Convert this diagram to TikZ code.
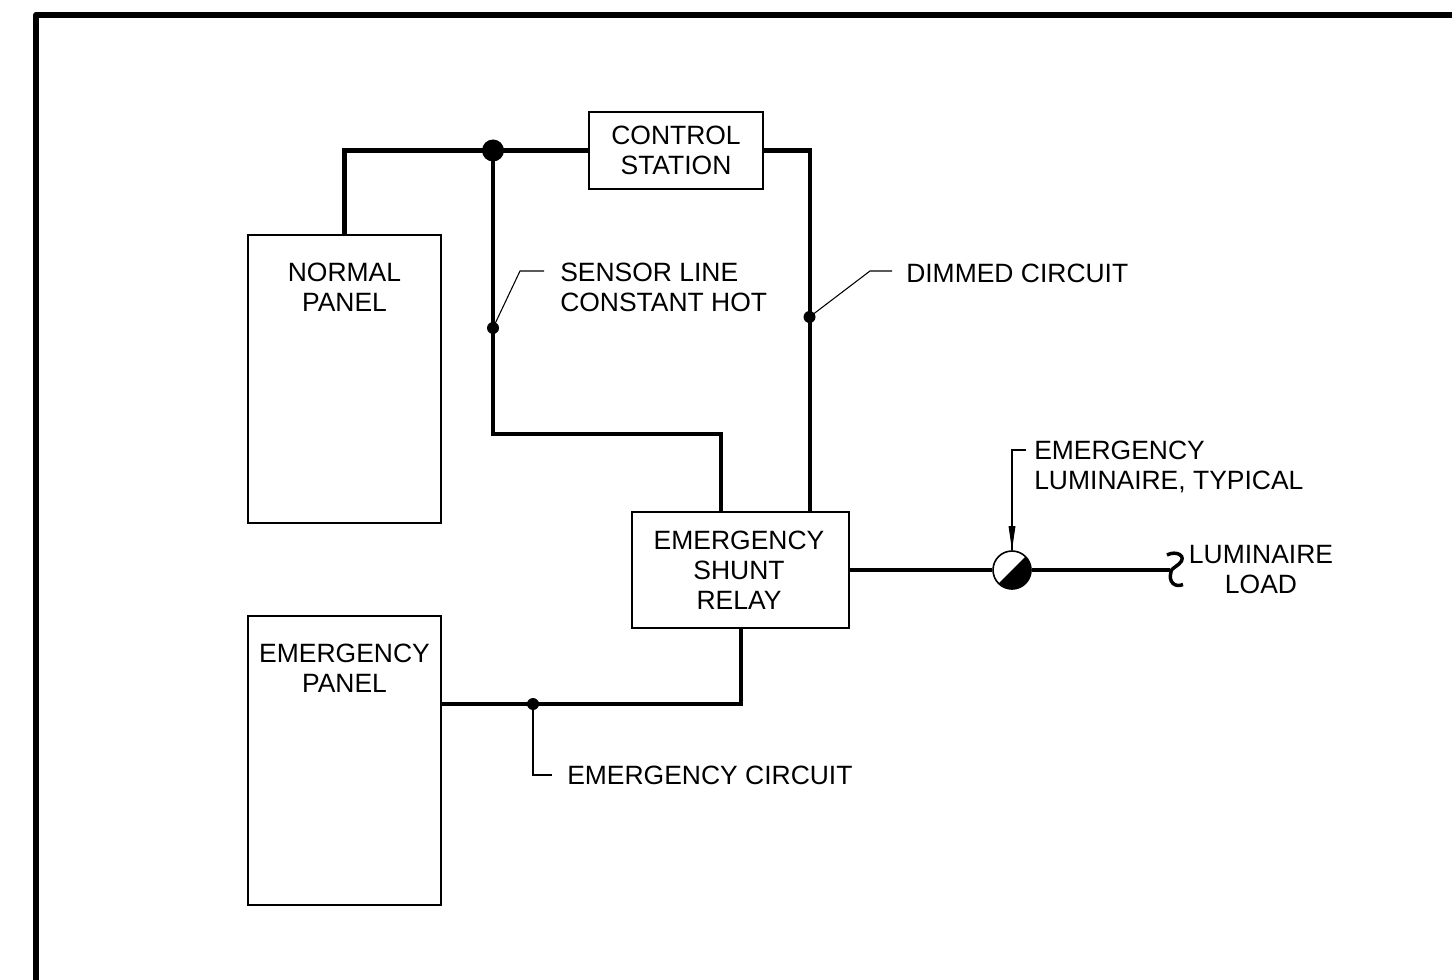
\documentclass[tikz,border=0pt]{standalone}
\usepackage{fontspec}
\setmainfont{Liberation Sans}
\begin{document}
\begin{tikzpicture}[x=0.75pt,y=-0.75pt,
  boxnode/.style={draw,line width=1pt,inner sep=0},
  label/.style={inner sep=0,align=center,font=\fontsize{19.85}{22.5}\selectfont},
  leftlabel/.style={inner sep=0,align=left,font=\fontsize{19.85}{22.5}\selectfont},
  wire/.style={line width=3.4pt,line join=miter},
  leader/.style={line width=0.8pt},
  jdot/.style={circle,fill=black,inner sep=0,minimum size=#1}]
\useasboundingbox (0,0) rectangle (1452,980);
\coordinate (frameR) at (1452,15);
\coordinate (frameC) at (36,15);
\coordinate (frameB) at (36,980);
\draw[line width=4.5pt,line join=round] (frameR) -- (frameC) -- (frameB);
% boxes
\node[boxnode,minimum width=130.5pt,minimum height=57.75pt] (control) at (676,150.5) {};
\node[label] (controlT) at (676,150) {CONTROL\\STATION};
\node[boxnode,minimum width=144.75pt,minimum height=216pt] (normal) at (344.5,379) {};
\node[label] (normalT) at (344.5,287) {NORMAL\\PANEL};
\node[boxnode,minimum width=144.75pt,minimum height=216.75pt] (emerg) at (344.5,760.5) {};
\node[label] (emergT) at (344.5,668) {EMERGENCY\\PANEL};
\node[boxnode,minimum width=162.75pt,minimum height=87pt] (relay) at (740.5,570) {};
\node[label] (relayT) at (739,570) {EMERGENCY\\SHUNT\\RELAY};
% junctions
\node[jdot=16.5pt] (bigj) at (493,150.5) {};
\node[jdot=9pt] (d1) at (493,328) {};
\node[jdot=9pt] (d2) at (809.5,317) {};
\node[jdot=9pt] (d3) at (533,704) {};
% luminaire
\node[circle,draw,line width=1.2pt,fill=white,minimum size=28.5pt,inner sep=0] (lum) at (1012,570) {};
\begin{scope}
  \clip (982,600) -- (1042,540) -- (1042,600) -- cycle;
  \fill (lum.center) circle[radius=19.3];
\end{scope}
% wire points
\coordinate (rA) at (721,512);
\coordinate (rB) at (810,512);
\coordinate (rC) at (741,628);
\coordinate (t1) at (493,434);
\coordinate (t3) at (741,704);
\coordinate (brk) at (1170,570);
\draw[wire] (normal.north) |- (control.west);
\draw[wire] (bigj.center) -- (t1) -| (rA);
\draw[wire] (control.east) -| (rB);
\draw[wire] (rC) -- (t3) -- (emerg.east |- t3);
\draw[wire] (relay.east) -- (lum.west);
\draw[wire] (lum.east) -- (brk);
% break symbol
\coordinate (bk1) at (1167,555);
\coordinate (bk2) at (1171,572);
\coordinate (bk3) at (1183,584.5);
\draw[line width=2.6pt] (bk1) .. controls (1176,550) and (1188,556) .. (1179,564)
  .. controls (1174,568) and (1170,570) .. (bk2)
  .. controls (1168,582) and (1175,588) .. (bk3);
% leaders
\coordinate (a1) at (520,271);
\coordinate (a2) at (544,271);
\coordinate (b1) at (870,271);
\coordinate (b2) at (892,271);
\coordinate (c1) at (533,775);
\coordinate (c2) at (552,775);
\coordinate (e1) at (1026,450);
\coordinate (e2) at (1012,450);
\draw[leader] (d1.center) -- (a1) -- (a2);
\draw[leader] (d2.center) -- (b1) -- (b2);
\draw[leader] (d3.center) -- (c1) -- (c2);
\draw[leader] (e1) -- (e2) -- (lum.north);
\coordinate (ah1) at (1008.5,526);
\coordinate (ah2) at (1015.5,526);
\fill (ah1) -- (ah2) -- (lum.north) -- cycle;
% labels
\node[leftlabel,anchor=west] (sensorT) at (560,287.5) {SENSOR LINE\\CONSTANT HOT};
\node[leftlabel,anchor=west] (dimT) at (906,273) {DIMMED CIRCUIT};
\node[leftlabel,anchor=west] (ecT) at (567,775) {EMERGENCY CIRCUIT};
\node[leftlabel,anchor=west] (elT) at (1034,467) {EMERGENCY\\LUMINAIRE, TYPICAL};
\node[label] (loadT) at (1261,570) {LUMINAIRE\\LOAD};
\end{tikzpicture}
\end{document}
